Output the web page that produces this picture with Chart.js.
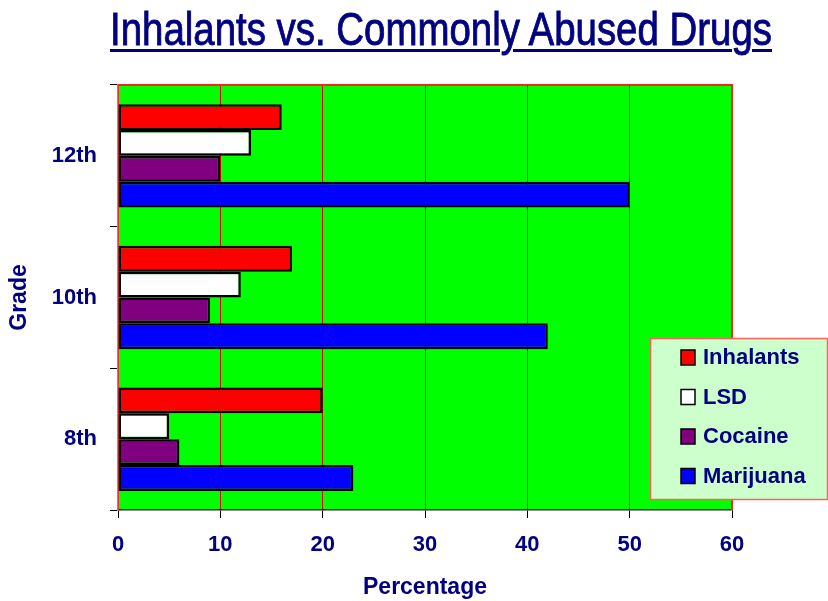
<!DOCTYPE html>
<html>
<head>
<meta charset="utf-8">
<title>Inhalants vs. Commonly Abused Drugs</title>
<script src="https://cdn.jsdelivr.net/npm/chart.js@4.4.0/dist/chart.umd.min.js"></script>
<style>
  body { margin: 0; background: #fff; }
  #wrap { position: relative; width: 828px; height: 601px; overflow: hidden; }
  #title {
    position: absolute; left: 110px; top: 3px; margin: 0;
    font-family: "Liberation Sans", Arial, sans-serif;
    font-weight: normal; font-size: 47px; line-height: 52px; color: #000080; white-space: nowrap;
    -webkit-text-stroke: 0.9px #000080;
    text-decoration: underline; text-decoration-thickness: 3px; text-underline-offset: 4px;
    transform-origin: 0 0;
  }
  canvas { position: absolute; left: 0; top: 0; }
</style>
</head>
<body>
<div id="wrap">
  <canvas id="chart" width="828" height="601"></canvas>
  <h1 id="title">Inhalants vs. Commonly Abused Drugs</h1>
</div>
<script>
// grades, top to bottom
const grades = ['12th', '10th', '8th'];

// percentage per grade
const inhalants = [16, 17, 20];
const lsd = [13, 12, 5];
const cocaine = [10, 9, 6];
const marijuana = [50, 42, 23];

const xTicks = [0, 10, 20, 30, 40, 50, 60];

const navy = '#000080';
const font = '"Liberation Sans", Arial, sans-serif';

// squeeze the title into the narrow look of the original
const title = document.getElementById('title');
title.style.transform = 'scaleX(' + (662 / title.getBoundingClientRect().width) + ')';

// green plot background + red frame on top/right
const plotFrame = {
  id: 'plotFrame',
  beforeDraw(chart) {
    const { ctx, chartArea: a } = chart;
    ctx.save();
    ctx.fillStyle = '#00ff00';
    ctx.fillRect(a.left, a.top, a.right - a.left, a.bottom - a.top);
    ctx.restore();
  },
  afterDatasetsDraw(chart) {
    const { ctx, chartArea: a } = chart;
    ctx.save();
    ctx.strokeStyle = '#ff2020';
    ctx.lineWidth = 2;
    ctx.beginPath();
    ctx.moveTo(a.left, a.top);
    ctx.lineTo(a.right, a.top);
    ctx.lineTo(a.right, a.bottom);
    ctx.stroke();
    ctx.restore();
  }
};

// legend box sitting over the lower right corner
const legendBox = {
  id: 'legendBox',
  afterDraw(chart) {
    const ctx = chart.ctx;
    ctx.save();
    ctx.fillStyle = '#ccffcc';
    ctx.fillRect(650, 338, 178, 162);
    ctx.strokeStyle = '#ff6060';
    ctx.lineWidth = 1.5;
    ctx.strokeRect(650.5, 338.5, 177, 161);
    ctx.font = 'bold 22px ' + font;
    ctx.textBaseline = 'middle';
    chart.data.datasets.forEach((ds, i) => {
      const y = 357 + i * 39.5;
      ctx.fillStyle = ds.backgroundColor;
      ctx.fillRect(681, y - 7, 14, 15);
      ctx.strokeStyle = '#000';
      ctx.lineWidth = 1.5;
      ctx.strokeRect(681, y - 7, 14, 15);
      ctx.fillStyle = navy;
      ctx.fillText(ds.label, 703, y + 1);
    });
    ctx.restore();
  }
};

const bar = (label, data, color) => ({
  label, data,
  backgroundColor: color,
  borderColor: '#000',
  borderWidth: 2.5,
  borderSkipped: false,
  categoryPercentage: 0.73,
  barPercentage: 1.0
});

new Chart(document.getElementById('chart'), {
  type: 'bar',
  data: {
    labels: grades,
    datasets: [
      bar('Inhalants', inhalants, '#ff0000'),
      bar('LSD', lsd, '#ffffff'),
      bar('Cocaine', cocaine, '#800080'),
      bar('Marijuana', marijuana, '#0000ff')
    ]
  },
  options: {
    indexAxis: 'y',
    responsive: false,
    animation: false,
    layout: { padding: { top: 85, right: 96, left: 0, bottom: 0 } },
    plugins: {
      legend: { display: false },
      tooltip: { enabled: false }
    },
    scales: {
      x: {
        min: 0, max: 60,
        afterBuildTicks: (s) => { s.ticks = xTicks.map(v => ({ value: v })); },
        afterFit: (s) => { s.height = 91; },
        grid: { color: '#dd0000', tickColor: '#000', tickLength: 8, lineWidth: 1 },
        border: { color: '#222', width: 1.5 },
        ticks: { color: navy, font: { family: font, size: 22, weight: 'bold' }, padding: 14 },
        title: {
          display: true, text: 'Percentage', color: navy,
          font: { family: font, size: 23, weight: 'bold' }, padding: { top: 0, bottom: 0 }
        }
      },
      y: {
        offset: true,
        afterFit: (s) => { s.width = 118; },
        grid: { offset: true, drawOnChartArea: false, tickColor: '#000', tickLength: 8 },
        border: { color: '#ff6060', width: 1.5 },
        ticks: { color: navy, font: { family: font, size: 22, weight: 'bold' }, padding: 13 },
        title: {
          display: true, text: 'Grade', color: navy,
          font: { family: font, size: 23, weight: 'bold' }, padding: { top: 6, bottom: 0 }
        }
      }
    }
  },
  plugins: [plotFrame, legendBox]
});
</script>
</body>
</html>
